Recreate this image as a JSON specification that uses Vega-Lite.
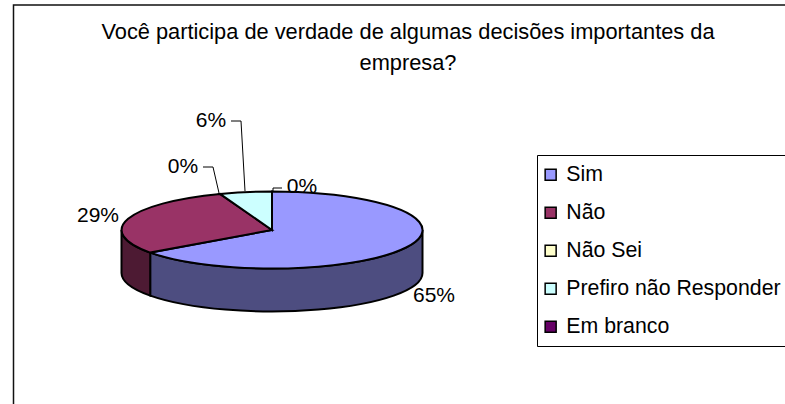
{
"$schema":"https://vega.github.io/schema/vega-lite/v6.json",
"autosize":{"type":"none"},
"padding":{"left":0,"top":56,"right":241,"bottom":0},
"width":544,"height":348,
"background":"white",
"config":{"view":{"stroke":null},"font":"Liberation Sans"},
"title":{"text":["Você participa de verdade de algumas decisões importantes da","empresa?"],"frame":"group","anchor":"middle","dx":136,"dy":65,"offset":-8,"font":"Liberation Sans","fontSize":21.8,"fontWeight":"normal","color":"black","lineHeight":31},
"data":{"values":[
{"category":"Sim","value":0.65},
{"category":"Não","value":0.29},
{"category":"Não Sei","value":0},
{"category":"Prefiro não Responder","value":0.06},
{"category":"Em branco","value":0}
]},
"layer":[
{"transform":[{"filter":"datum.category==='Sim'"}],
 "mark":{"type":"point","filled":false,"opacity":1,"size":4,"stroke":"#111111","strokeWidth":1.5,"shape":"M-258.5,174 L-258.5,-225 L513,-225"},"encoding":{}},
{"transform":[{"filter":"datum.category==='Sim'"}],
 "mark":{"type":"point","filled":true,"opacity":1,"size":4,"fill":"#4d4d80","stroke":"black","strokeWidth":2,"shape":"M150.5,0 A150.5,38.5 0 0 1 -121.8,22.6 L-121.8,65.6 A150.5,38.5 0 0 0 150.5,43 Z"},"encoding":{}},
{"transform":[{"filter":"datum.category==='Não'"}],
 "mark":{"type":"point","filled":true,"opacity":1,"size":4,"fill":"#4d1a33","stroke":"black","strokeWidth":2,"shape":"M-121.8,22.6 A150.5,38.5 0 0 1 -150.5,0 L-150.5,43 A150.5,38.5 0 0 0 -121.8,65.6 Z"},"encoding":{}},
{"transform":[{"filter":"datum.value>0"}],
 "mark":{"type":"point","filled":true,"opacity":1,"size":4,"stroke":"black","strokeWidth":2},
 "encoding":{
  "color":{"field":"category","type":"nominal","sort":null,
   "scale":{"domain":["Sim","Não","Não Sei","Prefiro não Responder","Em branco"],"range":["#9999ff","#993366","#ffffcc","#ccffff","#660066"]},
   "legend":{"title":null,"orient":"none","legendX":537,"legendY":99,"symbolType":"square","symbolSize":121,"symbolStrokeColor":"black","symbolStrokeWidth":1.5,"symbolOpacity":1,"symbolOffset":-6,"labelFont":"Liberation Sans","labelFontSize":21.3,"labelColor":"black","labelOffset":5,"labelLimit":300,"rowPadding":16,"padding":9,"strokeColor":"black","fillColor":"white","offset":0}},
  "shape":{"field":"category","type":"nominal","legend":null,
   "scale":{"domain":["Sim","Não","Prefiro não Responder"],"range":[
    "M0,0 L0,-38.5 A150.5,38.5 0 1 1 -121.8,22.6 Z",
    "M0,0 L-121.8,22.6 A150.5,38.5 0 0 1 -52,-36.1 Z",
    "M0,0 L-52,-36.1 A150.5,38.5 0 0 1 0,-38.5 Z"]}}
 }},
{"transform":[{"filter":"datum.category==='Prefiro não Responder'"}],
 "mark":{"type":"point","filled":false,"opacity":1,"size":4,"stroke":"black","strokeWidth":1,"shape":"M-41,-109 L-31,-109 L-27,-39"},"encoding":{}},
{"transform":[{"filter":"datum.category==='Não Sei'"}],
 "mark":{"type":"point","filled":false,"opacity":1,"size":4,"stroke":"black","strokeWidth":1,"shape":"M-69,-63 L-59,-63 L-53,-37"},"encoding":{}},
{"transform":[{"filter":"datum.category==='Em branco'"}],
 "mark":{"type":"point","filled":false,"opacity":1,"size":4,"stroke":"black","strokeWidth":1,"shape":"M10,-42 L1,-42 L1,-38"},"encoding":{}},
{"transform":[{"filter":"datum.category==='Sim'"}],
 "mark":{"type":"text","font":"Liberation Sans","fontSize":21,"color":"black","align":"center","baseline":"middle","dx":162,"dy":66},
 "encoding":{"text":{"field":"value","type":"quantitative","format":".0%"}}},
{"transform":[{"filter":"datum.category==='Não'"}],
 "mark":{"type":"text","font":"Liberation Sans","fontSize":21,"color":"black","align":"center","baseline":"middle","dx":-174,"dy":-14},
 "encoding":{"text":{"field":"value","type":"quantitative","format":".0%"}}},
{"transform":[{"filter":"datum.category==='Não Sei'"}],
 "mark":{"type":"text","font":"Liberation Sans","fontSize":21,"color":"black","align":"center","baseline":"middle","dx":-89,"dy":-63},
 "encoding":{"text":{"field":"value","type":"quantitative","format":".0%"}}},
{"transform":[{"filter":"datum.category==='Prefiro não Responder'"}],
 "mark":{"type":"text","font":"Liberation Sans","fontSize":21,"color":"black","align":"center","baseline":"middle","dx":-61,"dy":-109},
 "encoding":{"text":{"field":"value","type":"quantitative","format":".0%"}}},
{"transform":[{"filter":"datum.category==='Em branco'"}],
 "mark":{"type":"text","font":"Liberation Sans","fontSize":21,"color":"black","align":"center","baseline":"middle","dx":30,"dy":-43},
 "encoding":{"text":{"field":"value","type":"quantitative","format":".0%"}}}
]
}
